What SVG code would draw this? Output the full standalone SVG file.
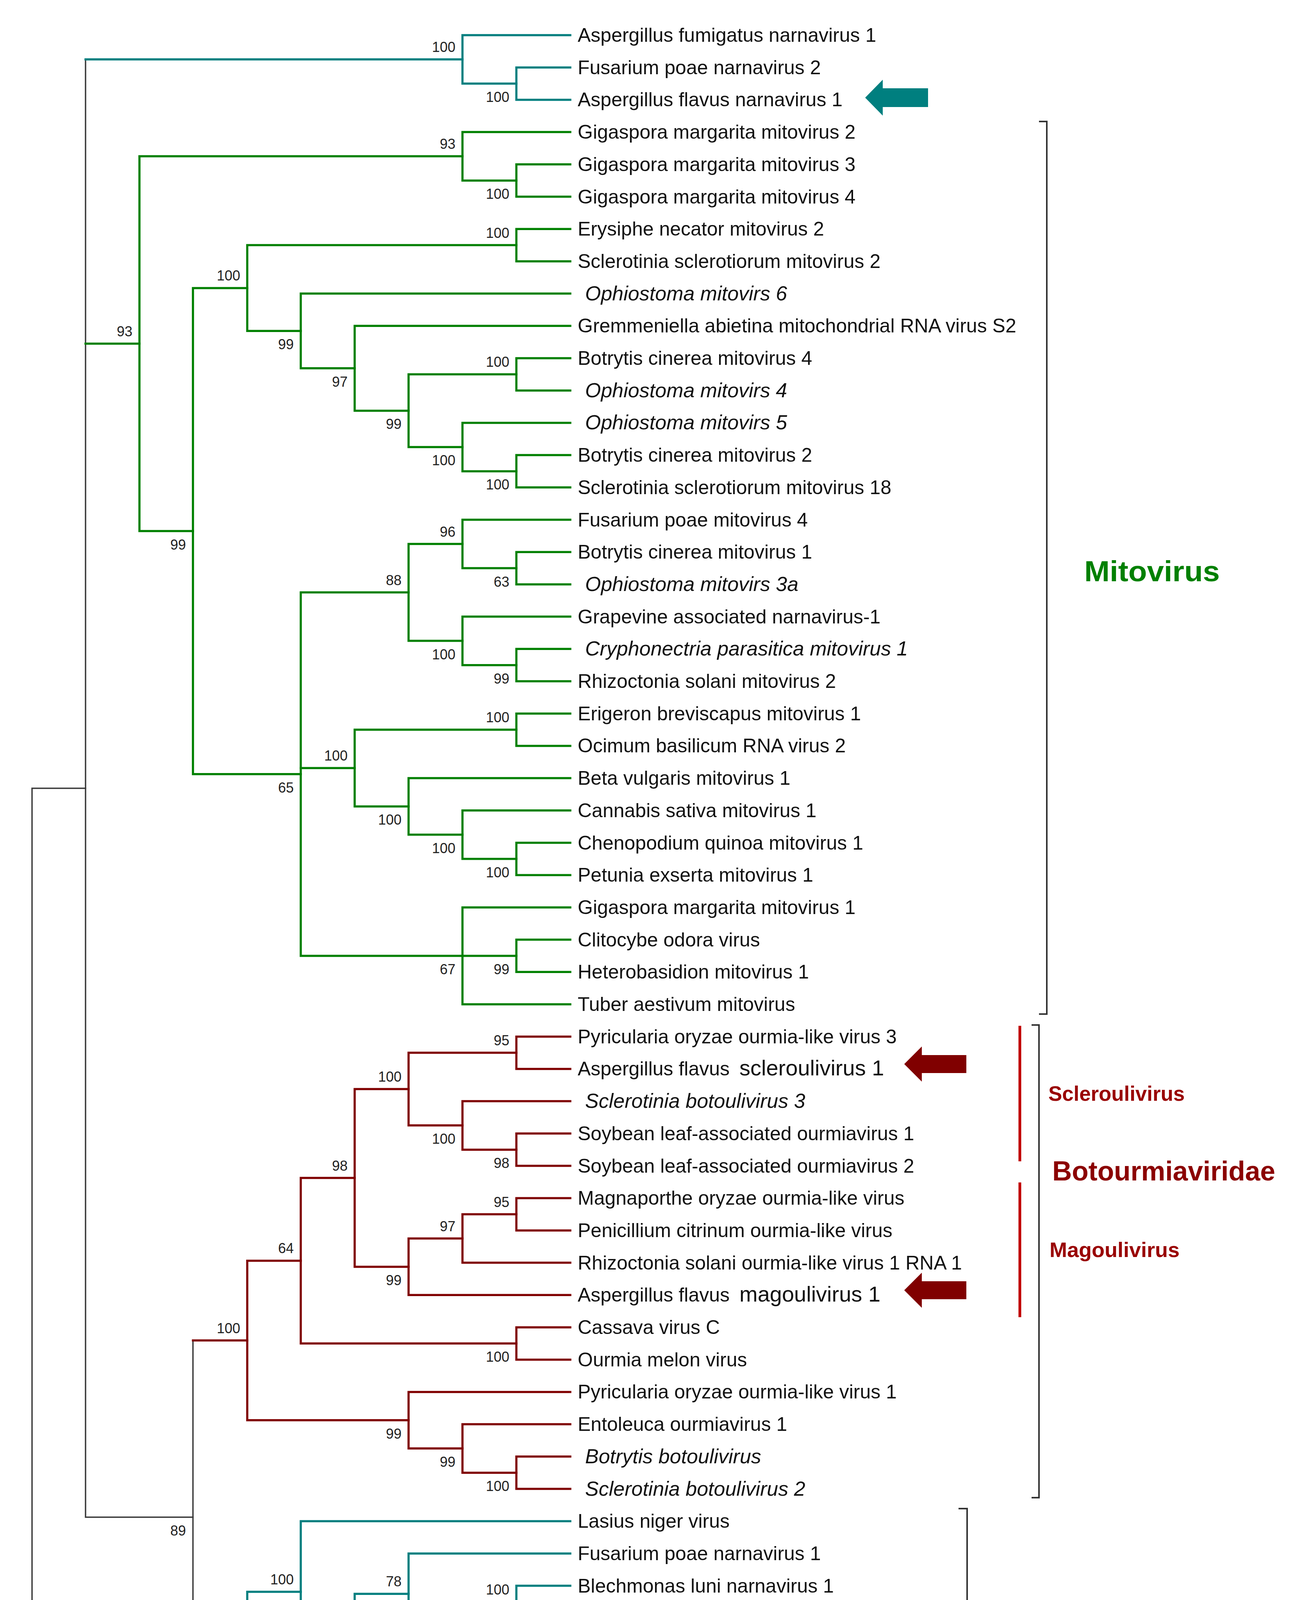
<svg xmlns="http://www.w3.org/2000/svg" width="3318" height="4947" viewBox="0 0 3318 4947">
<style>
.br{fill:none;stroke-width:5.5;stroke-linecap:square;stroke-linejoin:miter}
.t{stroke:#007f7f}.g{stroke:#008000}.r{stroke:#800000}
.k{fill:none;stroke:#3a3a3a;stroke-width:3.5;stroke-linecap:square}
.lf{font-family:'Liberation Sans',Arial,sans-serif;font-size:50px;fill:#111}
.it{font-style:italic;font-size:52px}
.bs{font-family:'Liberation Sans',Arial,sans-serif;font-size:36px;text-anchor:end;fill:#222}
.cl{font-family:'Liberation Sans',Arial,sans-serif;font-weight:bold}
.brk{fill:none;stroke:#333;stroke-width:4}
</style>
<rect width="3318" height="4947" fill="#fff"/>
<g id="connectors">
<path class="k" d="M219,2018 H82 V4824.6 H1184"/>
<path class="k" d="M219,152 V3883.9 H494"/>
<path class="k" d="M494,3431.6 V4336.1"/>
<path class="k" d="M1322,4762.55 H1184 V4886.6 H1460"/>
<path class="k" d="M1460,4721.2 H1322 V4803.9 H1460"/>
<g class="br t">
<path d="M219,152 H1184"/>
<path d="M1460,90 H1184 V214.05 H1322"/>
<path d="M1460,172.7 H1322 V255.4 H1460"/>
<path d="M494,4336.1 H633"/>
<path d="M770,4075.1 H633 V4597.15 H1322"/>
<path d="M1460,3894.2 H770 V4256 H908"/>
<path d="M1046,4080.3 H908 V4431.75 H1322"/>
<path d="M1460,3976.9 H1046 V4183.65 H1184"/>
<path d="M1322,4100.95 H1184 V4266.35 H1322"/>
<path d="M1460,4059.6 H1322 V4142.3 H1460"/>
<path d="M1460,4225 H1322 V4307.7 H1460"/>
<path d="M1460,4390.4 H1322 V4473.1 H1460"/>
<path d="M1460,4555.8 H1322 V4638.5 H1460"/>
</g>
<g class="br g">
<path d="M219,879.85 H357"/>
<path d="M1184,400.1 H357 V1359.6 H494"/>
<path d="M1460,338.1 H1184 V462.15 H1322"/>
<path d="M1460,420.8 H1322 V503.5 H1460"/>
<path d="M633,737.4 H494 V1981.8 H770"/>
<path d="M1322,627.55 H633 V847.2 H770"/>
<path d="M1460,586.2 H1322 V668.9 H1460"/>
<path d="M1460,751.6 H770 V942.85 H908"/>
<path d="M1460,834.3 H908 V1051.4 H1046"/>
<path d="M1322,958.35 H1046 V1144.4 H1184"/>
<path d="M1460,917 H1322 V999.7 H1460"/>
<path d="M1460,1082.4 H1184 V1206.45 H1322"/>
<path d="M1460,1165.1 H1322 V1247.8 H1460"/>
<path d="M1046,1516.6 H770 V2446.95 H1184"/>
<path d="M770,1966.25 H908"/>
<path d="M1184,1392.5 H1046 V1640.6 H1184"/>
<path d="M1460,1330.5 H1184 V1454.55 H1322"/>
<path d="M1460,1413.2 H1322 V1495.9 H1460"/>
<path d="M1460,1578.6 H1184 V1702.65 H1322"/>
<path d="M1460,1661.3 H1322 V1744 H1460"/>
<path d="M1322,1868.05 H908 V2064.45 H1046"/>
<path d="M1460,1826.7 H1322 V1909.4 H1460"/>
<path d="M1460,1992.1 H1046 V2136.8 H1184"/>
<path d="M1460,2074.8 H1184 V2198.85 H1322"/>
<path d="M1460,2157.5 H1322 V2240.2 H1460"/>
<path d="M1460,2322.9 H1184 V2571 H1460"/>
<path d="M1184,2446.95 H1322"/>
<path d="M1460,2405.6 H1322 V2488.3 H1460"/>
</g>
<g class="br r">
<path d="M494,3431.6 H633"/>
<path d="M770,3227.4 H633 V3635.75 H1046"/>
<path d="M908,3015.5 H770 V3439.35 H1322"/>
<path d="M1046,2788.1 H908 V3242.95 H1046"/>
<path d="M1322,2695.05 H1046 V2881.1 H1184"/>
<path d="M1460,2653.7 H1322 V2736.4 H1460"/>
<path d="M1460,2819.1 H1184 V2943.15 H1322"/>
<path d="M1460,2901.8 H1322 V2984.5 H1460"/>
<path d="M1184,3170.6 H1046 V3315.3 H1460"/>
<path d="M1322,3108.55 H1184 V3232.6 H1460"/>
<path d="M1460,3067.2 H1322 V3149.9 H1460"/>
<path d="M1460,3398 H1322 V3480.7 H1460"/>
<path d="M1460,3563.4 H1046 V3708.1 H1184"/>
<path d="M1460,3646.1 H1184 V3770.15 H1322"/>
<path d="M1460,3728.8 H1322 V3811.5 H1460"/>
</g>
</g>
<g id="leaves" class="lf">
<g id="leaf0"><text x="1479" y="107">Aspergillus fumigatus narnavirus 1</text></g>
<g id="leaf1"><text x="1479" y="189.7">Fusarium poae narnavirus 2</text></g>
<g id="leaf2"><text x="1479" y="272.4">Aspergillus flavus narnavirus 1</text></g>
<g id="leaf3"><text x="1479" y="355.1">Gigaspora margarita mitovirus 2</text></g>
<g id="leaf4"><text x="1479" y="437.8">Gigaspora margarita mitovirus 3</text></g>
<g id="leaf5"><text x="1479" y="520.5">Gigaspora margarita mitovirus 4</text></g>
<g id="leaf6"><text x="1479" y="603.2">Erysiphe necator mitovirus 2</text></g>
<g id="leaf7"><text x="1479" y="685.9">Sclerotinia sclerotiorum mitovirus 2</text></g>
<g id="leaf8"><text class="it" x="1498" y="768.6">Ophiostoma mitovirs 6</text></g>
<g id="leaf9"><text x="1479" y="851.3">Gremmeniella abietina mitochondrial RNA virus S2</text></g>
<g id="leaf10"><text x="1479" y="934">Botrytis cinerea mitovirus 4</text></g>
<g id="leaf11"><text class="it" x="1498" y="1016.7">Ophiostoma mitovirs 4</text></g>
<g id="leaf12"><text class="it" x="1498" y="1099.4">Ophiostoma mitovirs 5</text></g>
<g id="leaf13"><text x="1479" y="1182.1">Botrytis cinerea mitovirus 2</text></g>
<g id="leaf14"><text x="1479" y="1264.8">Sclerotinia sclerotiorum mitovirus 18</text></g>
<g id="leaf15"><text x="1479" y="1347.5">Fusarium poae mitovirus 4</text></g>
<g id="leaf16"><text x="1479" y="1430.2">Botrytis cinerea mitovirus 1</text></g>
<g id="leaf17"><text class="it" x="1498" y="1512.9">Ophiostoma mitovirs 3a</text></g>
<g id="leaf18"><text x="1479" y="1595.6">Grapevine associated narnavirus-1</text></g>
<g id="leaf19"><text class="it" x="1498" y="1678.3">Cryphonectria parasitica mitovirus 1</text></g>
<g id="leaf20"><text x="1479" y="1761">Rhizoctonia solani mitovirus 2</text></g>
<g id="leaf21"><text x="1479" y="1843.7">Erigeron breviscapus mitovirus 1</text></g>
<g id="leaf22"><text x="1479" y="1926.4">Ocimum basilicum RNA virus 2</text></g>
<g id="leaf23"><text x="1479" y="2009.1">Beta vulgaris mitovirus 1</text></g>
<g id="leaf24"><text x="1479" y="2091.8">Cannabis sativa mitovirus 1</text></g>
<g id="leaf25"><text x="1479" y="2174.5">Chenopodium quinoa mitovirus 1</text></g>
<g id="leaf26"><text x="1479" y="2257.2">Petunia exserta mitovirus 1</text></g>
<g id="leaf27"><text x="1479" y="2339.9">Gigaspora margarita mitovirus 1</text></g>
<g id="leaf28"><text x="1479" y="2422.6">Clitocybe odora virus</text></g>
<g id="leaf29"><text x="1479" y="2505.3">Heterobasidion mitovirus 1</text></g>
<g id="leaf30"><text x="1479" y="2588">Tuber aestivum mitovirus</text></g>
<g id="leaf31"><text x="1479" y="2670.7">Pyricularia oryzae ourmia-like virus 3</text></g>
<g id="leaf32"><text x="1479" y="2753.4">Aspergillus flavus <tspan x="1893" font-size="56">scleroulivirus 1</tspan></text></g>
<g id="leaf33"><text class="it" x="1498" y="2836.1">Sclerotinia botoulivirus 3</text></g>
<g id="leaf34"><text x="1479" y="2918.8">Soybean leaf-associated ourmiavirus 1</text></g>
<g id="leaf35"><text x="1479" y="3001.5">Soybean leaf-associated ourmiavirus 2</text></g>
<g id="leaf36"><text x="1479" y="3084.2">Magnaporthe oryzae ourmia-like virus</text></g>
<g id="leaf37"><text x="1479" y="3166.9">Penicillium citrinum ourmia-like virus</text></g>
<g id="leaf38"><text x="1479" y="3249.6">Rhizoctonia solani ourmia-like virus 1 RNA 1</text></g>
<g id="leaf39"><text x="1479" y="3332.3">Aspergillus flavus <tspan x="1893" font-size="56">magoulivirus 1</tspan></text></g>
<g id="leaf40"><text x="1479" y="3415">Cassava virus C</text></g>
<g id="leaf41"><text x="1479" y="3497.7">Ourmia melon virus</text></g>
<g id="leaf42"><text x="1479" y="3580.4">Pyricularia oryzae ourmia-like virus 1</text></g>
<g id="leaf43"><text x="1479" y="3663.1">Entoleuca ourmiavirus 1</text></g>
<g id="leaf44"><text class="it" x="1498" y="3745.8">Botrytis botoulivirus</text></g>
<g id="leaf45"><text class="it" x="1498" y="3828.5">Sclerotinia botoulivirus 2</text></g>
<g id="leaf46"><text x="1479" y="3911.2">Lasius niger virus</text></g>
<g id="leaf47"><text x="1479" y="3993.9">Fusarium poae narnavirus 1</text></g>
<g id="leaf48"><text x="1479" y="4076.6">Blechmonas luni narnavirus 1</text></g>
<g id="leaf49"><text x="1479" y="4159.3">Blechomonas wendygibsoni narnavirus 1</text></g>
<g id="leaf50"><text class="it" x="1495" y="4242">Saccharomyces 20S RNA narnavirus</text></g>
<g id="leaf51"><text class="it" x="1489" y="4324.7">Saccharomyces 23S RNA narnavirus</text></g>
<g id="leaf52"><text x="1479" y="4407.4">Narnaviridae environmental sample</text></g>
<g id="leaf53"><text x="1479" y="4490.1">uncultured dipteran virus</text></g>
<g id="leaf54"><text x="1479" y="4572.8">Phytophthora infestans RNA virus 4</text></g>
<g id="leaf55"><text x="1479" y="4655.5">Aspergillus flavus narnavirus 2</text></g>
<g id="leaf56"><text x="1479" y="4738.2">Escherichia virus MS2</text></g>
<g id="leaf57"><text x="1479" y="4820.9">Enterobacteria phage GA</text></g>
<g id="leaf58"><text x="1479" y="4903.6">Enterobacteria phage SP</text></g>
</g>
<g id="bootstrap" class="bs">
<g id="n1"><text x="1166" y="133">100</text></g>
<g id="n1a"><text x="1304" y="261">100</text></g>
<g id="nM"><text x="339" y="861">93</text></g>
<g id="nG"><text x="1166" y="381">93</text></g>
<g id="nG2"><text x="1304" y="509">100</text></g>
<g id="nM2"><text x="476" y="1407">99</text></g>
<g id="nM3"><text x="615" y="718">100</text></g>
<g id="nE"><text x="1304" y="609">100</text></g>
<g id="nM5"><text x="752" y="894">99</text></g>
<g id="nM6"><text x="890" y="990">97</text></g>
<g id="nM7"><text x="1028" y="1098">99</text></g>
<g id="nM8"><text x="1304" y="939">100</text></g>
<g id="nM9"><text x="1166" y="1191">100</text></g>
<g id="nM10"><text x="1304" y="1253">100</text></g>
<g id="nM4"><text x="752" y="2029">65</text></g>
<g id="nM11"><text x="1028" y="1498">88</text></g>
<g id="nM14"><text x="1166" y="1374">96</text></g>
<g id="nM14b"><text x="1304" y="1502">63</text></g>
<g id="nM15"><text x="1166" y="1688">100</text></g>
<g id="nM15b"><text x="1304" y="1750">99</text></g>
<g id="nEB"><text x="890" y="1947">100</text></g>
<g id="nEr"><text x="1304" y="1849">100</text></g>
<g id="nBe"><text x="1028" y="2111">100</text></g>
<g id="nCa"><text x="1166" y="2184">100</text></g>
<g id="nPe"><text x="1304" y="2246">100</text></g>
<g id="nM13"><text x="1166" y="2494">67</text></g>
<g id="nHe"><text x="1304" y="2494">99</text></g>
<g id="nO"><text x="615" y="3413">100</text></g>
<g id="nO1"><text x="752" y="3208">64</text></g>
<g id="nO3"><text x="890" y="2997">98</text></g>
<g id="nO5"><text x="1028" y="2769">100</text></g>
<g id="nO7"><text x="1304" y="2676">95</text></g>
<g id="nO8"><text x="1166" y="2928">100</text></g>
<g id="nSoy"><text x="1304" y="2990">98</text></g>
<g id="nO6"><text x="1028" y="3290">99</text></g>
<g id="nO9"><text x="1166" y="3152">97</text></g>
<g id="nMa"><text x="1304" y="3090">95</text></g>
<g id="nO4"><text x="1304" y="3486">100</text></g>
<g id="nO2"><text x="1028" y="3683">99</text></g>
<g id="nO10"><text x="1166" y="3755">99</text></g>
<g id="nO11"><text x="1304" y="3817">100</text></g>
<g id="nB"><text x="476" y="3931">89</text></g>
<g id="nN"><text x="615" y="4383">87</text></g>
<g id="nN2"><text x="752" y="4056">100</text></g>
<g id="nN4"><text x="890" y="4303">95</text></g>
<g id="nN5"><text x="1028" y="4061">78</text></g>
<g id="nN7"><text x="1166" y="4231">95</text></g>
<g id="nBl"><text x="1304" y="4082">100</text></g>
<g id="nSa"><text x="1304" y="4313">92</text></g>
<g id="nN6"><text x="1304" y="4479">100</text></g>
<g id="nN3"><text x="1304" y="4644">90</text></g>
<g id="nOGa"><text x="1304" y="4744">100</text></g>
<g id="nOG"><text x="1166" y="4872">100</text></g>
</g>
<g id="arrows">
<polygon fill="#007f7f" transform="translate(2215,250)" points="0,0 45,-46 45,-24 161,-24 161,24 45,24 45,46"/>
<polygon fill="#800000" transform="translate(2315,2724)" points="0,0 45,-45 45,-23 159,-23 159,23 45,23 45,45"/>
<polygon fill="#800000" transform="translate(2315,3303)" points="0,0 45,-45 45,-23 159,-23 159,23 45,23 45,45"/>
<polygon fill="#007f7f" transform="translate(2213,4625)" points="0,0 45,-46 45,-24 162,-24 162,24 45,24 45,46"/>
</g>
<g id="clade-mitovirus">
<path class="brk" d="M2660,311 H2680 V2596 H2660"/>
<text class="cl" x="2776" y="1488" font-size="74" fill="#008000" textLength="347" lengthAdjust="spacingAndGlyphs">Mitovirus</text>
</g>
<g id="clade-botourmiaviridae">
<path class="brk" d="M2641,2624 H2660 V3834 H2641"/>
<text class="cl" x="2694" y="3022" font-size="70" fill="#8b0000" textLength="571" lengthAdjust="spacingAndGlyphs">Botourmiaviridae</text>
</g>
<g id="clade-scleroulivirus">
<line x1="2611" y1="2626" x2="2611" y2="2973" stroke="#c00000" stroke-width="7"/>
<text class="cl" x="2684" y="2818" font-size="53" fill="#990000" textLength="349" lengthAdjust="spacingAndGlyphs">Scleroulivirus</text>
</g>
<g id="clade-magoulivirus">
<line x1="2611" y1="3027" x2="2611" y2="3372" stroke="#c00000" stroke-width="7"/>
<text class="cl" x="2687" y="3218" font-size="53" fill="#990000" textLength="333" lengthAdjust="spacingAndGlyphs">Magoulivirus</text>
</g>
<g id="clade-narnavirus">
<path class="brk" d="M2454,3862 H2476 V4662 H2454"/>
<text class="cl" x="2592" y="4277" font-size="74" fill="#007f7f" textLength="395" lengthAdjust="spacingAndGlyphs">Narnavirus</text>
</g>
</svg>
